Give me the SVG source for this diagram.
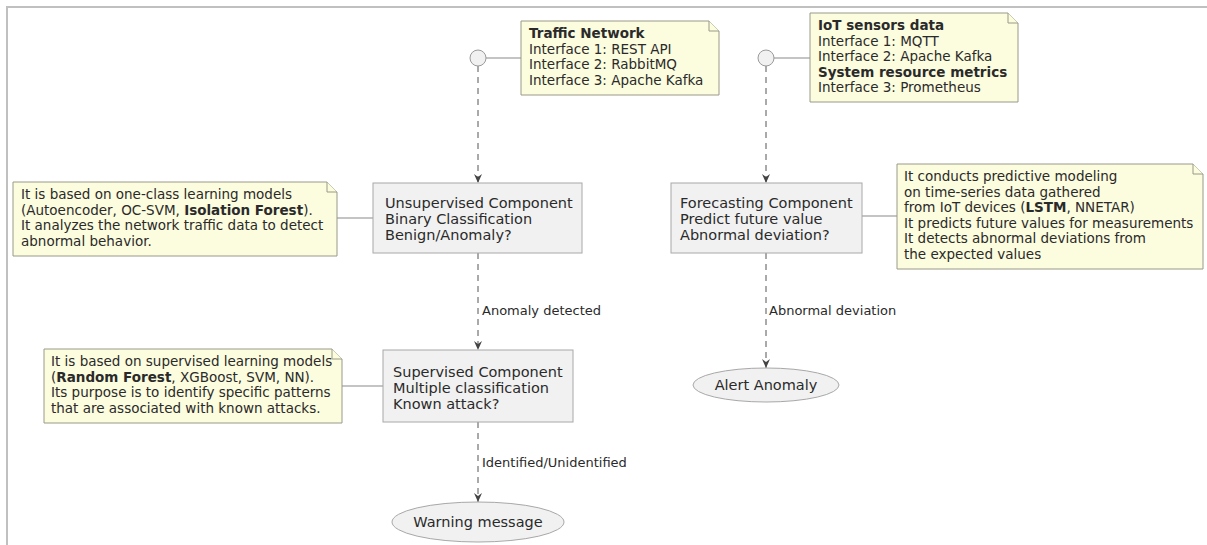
<svg xmlns="http://www.w3.org/2000/svg" width="1207" height="545" viewBox="0 0 1207 545">
  <defs>
    <style>
      .frame { fill: none; stroke: #c0c0c0; stroke-width: 2; }
      .note { fill: #fcfcde; stroke: #9a9a8a; stroke-width: 1; }
      .fold { fill: #fcfcde; stroke: #9a9a8a; stroke-width: 1; }
      .box { fill: #f1f1f1; stroke: #a8a8a8; stroke-width: 1; }
      .iface { fill: #f1f1f1; stroke: #9a9a9a; stroke-width: 1; }
      .usecase { fill: #f1f1f1; stroke: #a8a8a8; stroke-width: 1; }
      .link { stroke: #8a8a8a; stroke-width: 1.2; fill: none; }
      .flow { stroke: #555; stroke-width: 1; fill: none; stroke-dasharray: 6 5; marker-end: url(#arrow); }
      .t { font-family: "DejaVu Sans", Verdana, sans-serif; fill: #2a2a2a; }
      .nt { font-size: 13.5px; }
      .bt { font-size: 14.5px; }
      .lt { font-size: 13px; }
      .b { font-weight: bold; }
    </style>
    <marker id="arrow" markerWidth="10" markerHeight="10" refX="9" refY="5" orient="auto" markerUnits="userSpaceOnUse">
      <path d="M0,1 L9,5 L0,9 L3,5 Z" fill="#444"/>
    </marker>
  </defs>

  <!-- outer frame -->
  <path class="frame" d="M7,545 L7,7 L1207,7"/>

  <!-- connectors -->
  <g id="connectors">
    <line class="link" x1="486" y1="58" x2="521" y2="58"/>
    <line class="link" x1="773" y1="58" x2="810" y2="58"/>
    <line class="link" x1="337" y1="218" x2="373" y2="218"/>
    <line class="link" x1="862" y1="216" x2="897" y2="216"/>
    <line class="link" x1="342" y1="386" x2="383" y2="386"/>

    <line class="flow" x1="478" y1="66" x2="478" y2="183"/>
    <line class="flow" x1="766" y1="66" x2="766" y2="183"/>
    <line class="flow" x1="478" y1="253" x2="478" y2="350"/>
    <line class="flow" x1="766" y1="253" x2="766" y2="368"/>
    <line class="flow" x1="478" y1="422" x2="478" y2="502"/>

    <text class="t lt" x="482" y="315">Anomaly detected</text>
    <text class="t lt" x="769" y="315">Abnormal deviation</text>
    <text class="t lt" x="482" y="467">Identified/Unidentified</text>
  </g>

  <!-- interface: traffic network -->
  <g id="iface-traffic">
    <circle class="iface" cx="478" cy="58" r="8"/>
  </g>

  <g id="note-traffic">
    <path class="note" d="M521,21 L709,21 L719,31 L719,95 L521,95 Z"/>
    <path class="fold" d="M709,21 L709,31 L719,31"/>
    <text class="t nt" x="529" y="38"><tspan class="b">Traffic Network</tspan></text>
    <text class="t nt" x="529" y="53.5">Interface 1: REST API</text>
    <text class="t nt" x="529" y="69">Interface 2: RabbitMQ</text>
    <text class="t nt" x="529" y="84.5">Interface 3: Apache Kafka</text>
  </g>

  <!-- interface: IoT sensors -->
  <g id="iface-iot">
    <circle class="iface" cx="766" cy="58" r="8"/>
  </g>

  <g id="note-iot">
    <path class="note" d="M810,13 L1008,13 L1018,23 L1018,102 L810,102 Z"/>
    <path class="fold" d="M1008,13 L1008,23 L1018,23"/>
    <text class="t nt" x="818" y="30"><tspan class="b">IoT sensors data</tspan></text>
    <text class="t nt" x="818" y="45.5">Interface 1: MQTT</text>
    <text class="t nt" x="818" y="61">Interface 2: Apache Kafka</text>
    <text class="t nt" x="818" y="76.5"><tspan class="b">System resource metrics</tspan></text>
    <text class="t nt" x="818" y="92">Interface 3: Prometheus</text>
  </g>

  <!-- unsupervised component -->
  <g id="unsupervised">
    <rect class="box" x="373" y="183" width="209" height="70"/>
    <text class="t bt" x="385" y="208">Unsupervised Component</text>
    <text class="t bt" x="385" y="224">Binary Classification</text>
    <text class="t bt" x="385" y="240">Benign/Anomaly?</text>
  </g>

  <g id="note-unsupervised">
    <path class="note" d="M13,182 L327,182 L337,192 L337,256 L13,256 Z"/>
    <path class="fold" d="M327,182 L327,192 L337,192"/>
    <text class="t nt" x="21" y="199">It is based on one-class learning models</text>
    <text class="t nt" x="21" y="214.5">(Autoencoder, OC-SVM, <tspan class="b">Isolation Forest</tspan>).</text>
    <text class="t nt" x="21" y="230">It analyzes the network traffic data to detect</text>
    <text class="t nt" x="21" y="245.5">abnormal behavior.</text>
  </g>

  <!-- forecasting component -->
  <g id="forecasting">
    <rect class="box" x="671" y="183" width="191" height="70"/>
    <text class="t bt" x="680" y="208">Forecasting Component</text>
    <text class="t bt" x="680" y="224">Predict future value</text>
    <text class="t bt" x="680" y="240">Abnormal deviation?</text>
  </g>

  <g id="note-forecasting">
    <path class="note" d="M897,164 L1193,164 L1203,174 L1203,269 L897,269 Z"/>
    <path class="fold" d="M1193,164 L1193,174 L1203,174"/>
    <text class="t nt" x="904" y="181">It conducts predictive modeling</text>
    <text class="t nt" x="904" y="196.5">on time-series data gathered</text>
    <text class="t nt" x="904" y="212">from IoT devices (<tspan class="b">LSTM</tspan>, NNETAR)</text>
    <text class="t nt" x="904" y="227.5">It predicts future values for measurements</text>
    <text class="t nt" x="904" y="243">It detects abnormal deviations from</text>
    <text class="t nt" x="904" y="258.5">the expected values</text>
  </g>

  <!-- supervised component -->
  <g id="supervised">
    <rect class="box" x="383" y="350" width="190" height="72"/>
    <text class="t bt" x="393" y="377">Supervised Component</text>
    <text class="t bt" x="393" y="393">Multiple classification</text>
    <text class="t bt" x="393" y="409">Known attack?</text>
  </g>

  <g id="note-supervised">
    <path class="note" d="M44,349 L332,349 L342,359 L342,423 L44,423 Z"/>
    <path class="fold" d="M332,349 L332,359 L342,359"/>
    <text class="t nt" x="51" y="366">It is based on supervised learning models</text>
    <text class="t nt" x="51" y="381.5">(<tspan class="b">Random Forest</tspan>, XGBoost, SVM, NN).</text>
    <text class="t nt" x="51" y="397">Its purpose is to identify specific patterns</text>
    <text class="t nt" x="51" y="412.5">that are associated with known attacks.</text>
  </g>

  <!-- outcomes -->
  <g id="alert-anomaly">
    <ellipse class="usecase" cx="766" cy="385" rx="73" ry="17"/>
    <text class="t bt" x="766" y="390" text-anchor="middle">Alert Anomaly</text>
  </g>

  <g id="warning-message">
    <ellipse class="usecase" cx="478" cy="522" rx="86" ry="20"/>
    <text class="t bt" x="478" y="527" text-anchor="middle">Warning message</text>
  </g>
</svg>
